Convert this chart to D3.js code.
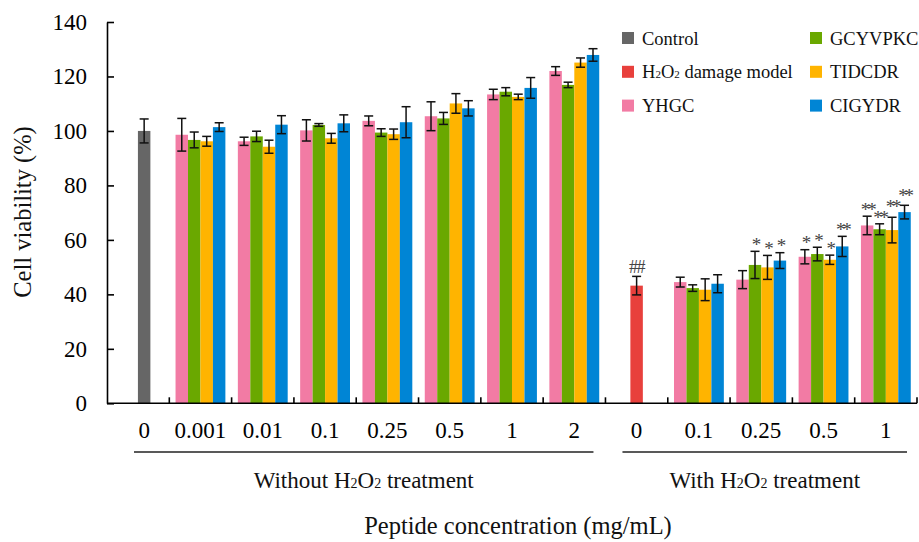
<!DOCTYPE html>
<html lang="en">
<head>
    <meta charset="UTF-8">
    <title>Cell viability with peptides</title>
    <style>
        body {
            margin: 0;
            background-color: #ffffff;
            font-family: "Liberation Serif", "Times New Roman", serif;
        }
        .axis path, .axis line {
            fill: none;
            stroke: #000;
            stroke-width: 1.6px;
        }
        .axis text {
            font-family: "Liberation Serif", "Times New Roman", serif;
            font-size: 23px;
            fill: #000;
        }
        .err {
            stroke: #111;
            stroke-width: 1.5px;
        }
    </style>
    <script src="https://d3js.org/d3.v7.min.js"></script>
</head>
<body>
<div id="chart"></div>

<script>
    // x categories (peptide concentration, mg/mL)
    var categories = ["0", "0.001", "0.01", "0.1", "0.25", "0.5", "1", "2", "0", "0.1", "0.25", "0.5", "1"];
    var seriesNames = ["Control", "H2O2 damage model", "YHGC", "GCYVPKC", "TIDCDR", "CIGYDR"];
    var colors = ["#666666", "#e8403c", "#f27ba4", "#6aa800", "#ffb400", "#0085d5"];

    // mean values, null = no bar in that group
    var controlVals = [100, null, null, null, null, null, null, null, null, null, null, null, null];
    var modelVals   = [null, null, null, null, null, null, null, null, 43.2, null, null, null, null];
    var yhgcVals    = [null, 98.6, 96.2, 100.2, 103.7, 105.4, 113.4, 122.0, null, 44.5, 45.4, 53.8, 65.3];
    var gcyvpkcVals = [null, 96.7, 98.0, 102.2, 99.4, 104.6, 114.4, 116.9, null, 42.3, 50.8, 54.8, 63.9];
    var tidcdrVals  = [null, 96.2, 94.2, 97.3, 98.8, 110.1, 112.5, 125.1, null, 41.7, 49.9, 52.7, 63.6];
    var cigydrVals  = [null, 101.4, 102.3, 102.8, 103.2, 108.3, 115.8, 127.9, null, 43.9, 52.4, 57.6, 70.2];

    // standard deviations
    var controlErr = [4.4, null, null, null, null, null, null, null, null, null, null, null, null];
    var modelErr   = [null, null, null, null, null, null, null, null, 3.4, null, null, null, null];
    var yhgcErr    = [null, 6.0, 1.5, 3.9, 1.8, 5.3, 1.9, 1.6, null, 1.8, 3.3, 2.6, 3.4];
    var gcyvpkcErr = [null, 2.9, 1.9, 0.5, 1.4, 2.2, 1.5, 1.0, null, 1.2, 5.0, 2.5, 2.0];
    var tidcdrErr  = [null, 1.8, 2.4, 1.8, 1.9, 3.6, 1.0, 1.7, null, 4.0, 4.4, 1.7, 4.7];
    var cigydrErr  = [null, 1.6, 3.3, 3.1, 5.7, 2.8, 3.8, 2.3, null, 3.3, 2.9, 3.7, 2.5];

    // significance marks
    var controlSig = ["", "", "", "", "", "", "", "", "", "", "", "", ""];
    var modelSig   = ["", "", "", "", "", "", "", "", "##", "", "", "", ""];
    var yhgcSig    = ["", "", "", "", "", "", "", "", "", "", "", "*", "**"];
    var gcyvpkcSig = ["", "", "", "", "", "", "", "", "", "", "*", "*", "**"];
    var tidcdrSig  = ["", "", "", "", "", "", "", "", "", "", "*", "*", "**"];
    var cigydrSig  = ["", "", "", "", "", "", "", "", "", "", "*", "**", "**"];

    var yTicks = [0, 20, 40, 60, 80, 100, 120, 140];
    var groupLabels = ["Without", "With"];

    var allVals = [controlVals, modelVals, yhgcVals, gcyvpkcVals, tidcdrVals, cigydrVals];
    var allErr = [controlErr, modelErr, yhgcErr, gcyvpkcErr, tidcdrErr, cigydrErr];
    var allSig = [controlSig, modelSig, yhgcSig, gcyvpkcSig, tidcdrSig, cigydrSig];

    var width = 919, height = 542;
    var plotLeft = 107, plotRight = 917, plotTop = 22, plotBottom = 403.3;

    var svg = d3.select("#chart")
        .append("svg")
        .attr("width", width)
        .attr("height", height);

    var x = d3.scaleBand()
        .domain(d3.range(categories.length))
        .range([plotLeft, plotRight])
        .padding(0);

    var y = d3.scaleLinear()
        .domain([0, 140])
        .range([plotBottom, plotTop]);

    var barW = x.bandwidth() * 0.2;
    var controlShift = 6;

    // flatten into bar records
    var bars = [];
    allVals.forEach(function (vals, s) {
        vals.forEach(function (v, i) {
            if (v == null) return;
            var off;
            if (s < 2) {
                off = (s == 0 ? controlShift : 0);
            } else {
                off = (s - 2 - 1.5) * barW;
            }
            bars.push({s: s, i: i, v: v, e: allErr[s][i], sig: allSig[s][i],
                cx: x(i) + x.bandwidth() / 2 + off});
        });
    });

    svg.append("g")
        .selectAll("rect")
        .data(bars)
        .enter().append("rect")
        .attr("x", function (d) { return d.cx - barW / 2; })
        .attr("width", barW)
        .attr("y", function (d) { return y(d.v); })
        .attr("height", function (d) { return y(0) - y(d.v); })
        .style("fill", function (d) { return colors[d.s]; });

    // error bars
    var eg = svg.append("g").attr("class", "errs");
    bars.forEach(function (d) {
        var y1 = y(d.v + d.e), y2 = y(d.v - d.e), cap = 4.5;
        eg.append("line").attr("class", "err")
            .attr("x1", d.cx).attr("x2", d.cx).attr("y1", y1).attr("y2", y2);
        eg.append("line").attr("class", "err")
            .attr("x1", d.cx - cap).attr("x2", d.cx + cap).attr("y1", y1).attr("y2", y1);
        eg.append("line").attr("class", "err")
            .attr("x1", d.cx - cap).attr("x2", d.cx + cap).attr("y1", y2).attr("y2", y2);
    });

    // significance marks, centre ~9.5px above the error cap,
    // double marks nudged up when they would sit on the neighbour's
    var marks = bars.filter(function (d) { return d.sig != ""; })
        .sort(function (a, b) { return a.cx - b.cx; });
    var prev = null;
    marks.forEach(function (d) {
        d.my = y(d.v + d.e) - 9.5;
        if (prev && prev.i == d.i && d.sig == "**" && prev.sig == "**") {
            var diff = d.my - prev.my;
            if (diff > -8 && diff < 7) d.my = prev.my - 11;
        }
        prev = d;
    });
    svg.append("g")
        .selectAll("text")
        .data(marks)
        .enter().append("text")
        .attr("x", function (d) { return d.cx; })
        .attr("y", function (d) { return d.sig == "##" ? d.my + 6 : d.my + 9.3; })
        .attr("text-anchor", "middle")
        .style("font-size", function (d) { return d.sig == "##" ? "18px" : "19px"; })
        .style("letter-spacing", function (d) { return d.sig == "##" ? "-1.5px" : "-3.2px"; })
        .style("fill", "#444")
        .text(function (d) { return d.sig; });

    // y axis
    svg.append("g")
        .attr("class", "axis")
        .attr("transform", "translate(" + plotLeft + ",0)")
        .call(d3.axisLeft(y).tickValues(yTicks).tickSizeInner(-7).tickSizeOuter(0).tickPadding(20));

    // x axis with labels
    var xAxis = svg.append("g")
        .attr("class", "axis")
        .attr("transform", "translate(0," + plotBottom + ")")
        .call(d3.axisBottom(x).tickSize(0).tickPadding(18).tickFormat(function (i) { return categories[i]; }));
    xAxis.select(".domain").remove();
    xAxis.selectAll(".tick").filter(function (i) { return i == 0; })
        .attr("transform", "translate(" + (x(0) + x.bandwidth() / 2 + controlShift) + ",0)");

    svg.append("line")
        .attr("x1", plotLeft).attr("x2", plotRight)
        .attr("y1", plotBottom).attr("y2", plotBottom)
        .style("stroke", "#000").style("stroke-width", 1.6);

    // group boundary ticks
    var bounds = d3.range(1, categories.length).map(function (i) { return x(i); }).concat([plotRight]);
    svg.append("g")
        .selectAll("line")
        .data(bounds)
        .enter().append("line")
        .attr("x1", function (d) { return d; }).attr("x2", function (d) { return d; })
        .attr("y1", plotBottom).attr("y2", plotBottom - 6)
        .style("stroke", "#000").style("stroke-width", 1.6);

    // treatment groups underlines and labels
    var groups = [
        {label: groupLabels[0], x1: x(0) + 27, x2: x(7) + x.bandwidth() - 12},
        {label: groupLabels[1], x1: x(8) + 17, x2: plotRight - 10}
    ];
    groups.forEach(function (g) {
        svg.append("line")
            .attr("x1", g.x1).attr("x2", g.x2)
            .attr("y1", 452).attr("y2", 452)
            .style("stroke", "#222").style("stroke-width", 1.6);
        var t = svg.append("text")
            .attr("x", (g.x1 + g.x2) / 2)
            .attr("y", 488)
            .attr("text-anchor", "middle")
            .style("font-size", "23px")
            .style("fill", "#111");
        t.append("tspan").text(g.label + " H");
        t.append("tspan").style("font-size", "14px").text("2");
        t.append("tspan").text("O");
        t.append("tspan").style("font-size", "14px").text("2");
        t.append("tspan").text(" treatment");
    });

    // axis titles
    svg.append("text")
        .attr("x", 518)
        .attr("y", 534)
        .attr("text-anchor", "middle")
        .style("font-size", "24.5px")
        .style("fill", "#111")
        .text("Peptide concentration (mg/mL)");

    svg.append("text")
        .attr("transform", "translate(31,212) rotate(-90)")
        .attr("text-anchor", "middle")
        .style("font-size", "24.5px")
        .style("fill", "#111")
        .text("Cell viability (%)");

    // legend
    var legend = svg.append("g").attr("class", "legend");
    seriesNames.forEach(function (name, s) {
        var col = Math.floor(s / 3), row = s % 3;
        var lx = 622 + col * 188, ly = 38 + row * 33.8;
        legend.append("rect")
            .attr("x", lx).attr("y", ly - 6)
            .attr("width", 12).attr("height", 12)
            .style("fill", colors[s]);
        var t = legend.append("text")
            .attr("x", lx + 20)
            .attr("y", ly + 6.5)
            .style("font-size", "18.5px")
            .style("fill", "#111");
        if (name.indexOf("H2O2") == 0) {
            t.append("tspan").text("H");
            t.append("tspan").style("font-size", "11px").text("2");
            t.append("tspan").text("O");
            t.append("tspan").style("font-size", "11px").text("2");
            t.append("tspan").text(name.slice(4));
        } else {
            t.text(name);
        }
    });
</script>
</body>
</html>
